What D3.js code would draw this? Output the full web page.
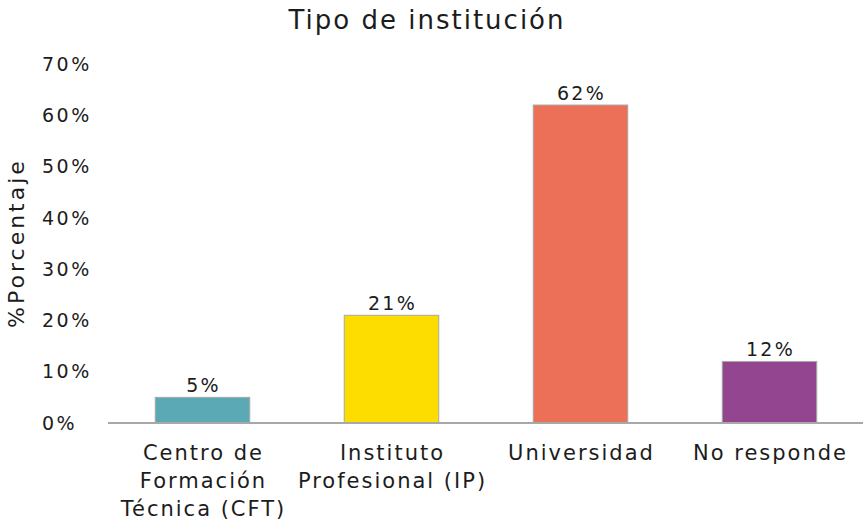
<!DOCTYPE html>
<html><head><meta charset="utf-8">
<script src="https://cdn.jsdelivr.net/npm/d3@7"></script>
<style>body{margin:0;background:#fff}svg{display:block}text{font-family:"DejaVu Sans",sans-serif;fill:#1c1c1c}</style>
</head><body><svg id="c" width="863" height="525"></svg>
<script>
const categories = [["Centro de","Formación","Técnica (CFT)"],["Instituto","Profesional (IP)"],["Universidad"],["No responde"]];
const values = [5, 21, 62, 12];
const valueLabels = ["5%","21%","62%","12%"];
const colors = ["#5aa9b5","#fddc00","#ec7057","#93468f"];
const yTicks = [0,10,20,30,40,50,60,70];
const yTickLabels = ["0%","10%","20%","30%","40%","50%","60%","70%"];
const title = "Tipo de institución";
const yTitle = "%Porcentaje";

const svg = d3.select("#c");
const ids = d3.range(values.length);
const x = d3.scaleBand().domain(ids).range([108, 864]).paddingInner(0.5).paddingOuter(0.25);
const y = d3.scaleLinear().domain([0, 70]).range([423, 64]);

// y tick labels
svg.append("g").selectAll("text").data(yTicks).join("text")
  .attr("x", 42).attr("y", d => y(d)).attr("dy", "0.35em")
  .attr("font-size", 19).attr("letter-spacing", 2.5).text((d,i) => yTickLabels[i]);

// bars
svg.append("g").selectAll("rect").data(ids).join("rect")
  .attr("x", i => x(i)).attr("width", x.bandwidth())
  .attr("y", i => y(values[i])).attr("height", i => y(0) - y(values[i]))
  .attr("fill", i => colors[i]).attr("stroke", "#a8a8a8").attr("stroke-width", 1);

// baseline
svg.append("line").attr("x1", 108).attr("x2", 863).attr("y1", y(0)).attr("y2", y(0))
  .attr("stroke", "#a8a8a8").attr("stroke-width", 2);

// value labels
svg.append("g").selectAll("text").data(ids).join("text")
  .attr("x", i => x(i) + x.bandwidth()/2 + 1).attr("y", i => y(values[i]) - 5)
  .attr("text-anchor", "middle").attr("font-size", 19).attr("letter-spacing", 2.2).text(i => valueLabels[i]);

// category labels
const cl = svg.append("g").selectAll("text").data(ids).join("text")
  .attr("x", i => x(i) + x.bandwidth()/2).attr("y", 460)
  .attr("text-anchor", "middle").attr("font-size", 21).attr("letter-spacing", 2);
cl.selectAll("tspan").data(i => categories[i].map(t => ({t, cx: x(i) + x.bandwidth()/2 + 1}))).join("tspan")
  .attr("x", d => d.cx).attr("dy", (d,j) => j === 0 ? 0 : 28).text(d => d.t);

// title
svg.append("text").attr("x", 427).attr("y", 29).attr("text-anchor", "middle")
  .attr("font-size", 26).attr("letter-spacing", 2).text(title);

// y title
svg.append("text").attr("transform", "translate(24,243) rotate(-90)")
  .attr("text-anchor", "middle").attr("font-size", 22).attr("letter-spacing", 3).text(yTitle);
</script></body></html>
